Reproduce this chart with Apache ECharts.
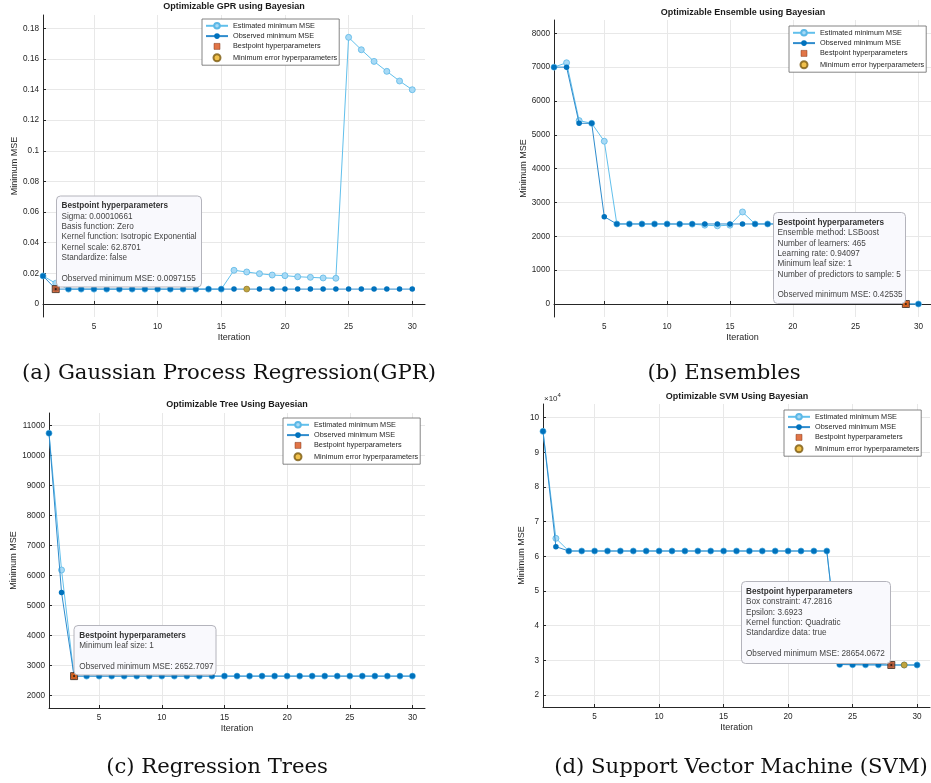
<!DOCTYPE html>
<html>
<head>
<meta charset="utf-8">
<script src="https://cdn.jsdelivr.net/npm/echarts@6/dist/echarts.min.js"></script>
<style>
html, body { margin: 0; padding: 0; background: #fff; }
#chart { width: 931px; height: 783px; }
</style>
</head>
<body>
<div id="chart"></div>
<script>
// iterations of the bayesian search
var iterations = [1, 2, 3, 4, 5, 6, 7, 8, 9, 10, 11, 12, 13, 14, 15, 16, 17, 18, 19, 20, 21, 22, 23, 24, 25, 26, 27, 28, 29, 30];
var xTicks = [5, 10, 15, 20, 25, 30];

// (a) GPR
var gprEstimated = [0.0183, 0.0135, 0.0097, 0.0097, 0.0097, 0.0097, 0.0097, 0.0097, 0.0097, 0.0097, 0.0097, 0.0097, 0.0097, 0.0097, 0.0097,
	0.0220, 0.0209, 0.0198, 0.0189, 0.0185, 0.0178, 0.0174, 0.0170, 0.0168, 0.1741, 0.1660, 0.1584, 0.1519, 0.1456, 0.1399];
var gprObserved = [0.0183, 0.0097155, 0.0097155, 0.0097155, 0.0097155, 0.0097155, 0.0097155, 0.0097155, 0.0097155, 0.0097155,
	0.0097155, 0.0097155, 0.0097155, 0.0097155, 0.0097155, 0.0097155, 0.0097155, 0.0097155, 0.0097155, 0.0097155,
	0.0097155, 0.0097155, 0.0097155, 0.0097155, 0.0097155, 0.0097155, 0.0097155, 0.0097155, 0.0097155, 0.0097155];
var gprBest = [2, 0.0097155];
var gprMinErr = [17, 0.0097155];
var gprTicks = [0, 0.02, 0.04, 0.06, 0.08, 0.1, 0.12, 0.14, 0.16, 0.18];

// (b) Ensemble
var ensEstimated = [7000, 7130, 5420, 5340, 4810, 2365, 2365, 2365, 2365, 2365, 2360, 2360, 2330, 2310, 2330,
	2720, 2365, 2365, 2365, 2365, 2365, 2365, 2365, 2365, 2365, 2365, 2365, 2365, 0.42535, 0.42535];
var ensObserved = [7000, 7000, 5340, 5340, 2580, 2365, 2365, 2365, 2365, 2365, 2365, 2365, 2365, 2365, 2365,
	2365, 2365, 2365, 2365, 2365, 2365, 2365, 2365, 2365, 2365, 2365, 2365, 2365, 0.42535, 0.42535];
var ensBest = [29, 0.42535];
var ensMinErr = [29, 0.42535];
var ensTicks = [0, 1000, 2000, 3000, 4000, 5000, 6000, 7000, 8000];

// (c) Tree
var treeEstimated = [10750, 6190, 2652.7097, 2652.7097, 2652.7097, 2652.7097, 2652.7097, 2652.7097, 2652.7097, 2652.7097,
	2652.7097, 2652.7097, 2652.7097, 2652.7097, 2652.7097, 2652.7097, 2652.7097, 2652.7097, 2652.7097, 2652.7097,
	2652.7097, 2652.7097, 2652.7097, 2652.7097, 2652.7097, 2652.7097, 2652.7097, 2652.7097, 2652.7097, 2652.7097];
var treeObserved = [10750, 5440, 2652.7097, 2652.7097, 2652.7097, 2652.7097, 2652.7097, 2652.7097, 2652.7097, 2652.7097,
	2652.7097, 2652.7097, 2652.7097, 2652.7097, 2652.7097, 2652.7097, 2652.7097, 2652.7097, 2652.7097, 2652.7097,
	2652.7097, 2652.7097, 2652.7097, 2652.7097, 2652.7097, 2652.7097, 2652.7097, 2652.7097, 2652.7097, 2652.7097];
var treeBest = [3, 2652.7097];
var treeMinErr = [3, 2652.7097];
var treeTicks = [2000, 3000, 4000, 5000, 6000, 7000, 8000, 9000, 10000, 11000];

// (d) SVM
var svmEstimated = [96060, 65190, 61540, 61540, 61540, 61540, 61540, 61540, 61540, 61540, 61540, 61540, 61540, 61540, 61540,
	61540, 61540, 61540, 61540, 61540, 61540, 61540, 61540, 28800, 28750, 28700, 28700, 28654.0672, 28654.0672, 28654.0672];
var svmObserved = [96060, 62790, 61540, 61540, 61540, 61540, 61540, 61540, 61540, 61540, 61540, 61540, 61540, 61540, 61540,
	61540, 61540, 61540, 61540, 61540, 61540, 61540, 61540, 28800, 28750, 28700, 28700, 28654.0672, 28654.0672, 28654.0672];
var svmBest = [28, 28654.0672];
var svmMinErr = [29, 28654.0672];
var svmTicks = [20000, 30000, 40000, 50000, 60000, 70000, 80000, 90000, 100000];

var legendNames = ['Estimated minimum MSE', 'Observed minimum MSE', 'Bestpoint hyperparameters', 'Minimum error hyperparameters'];

var sans = 'Liberation Sans, Arial, sans-serif';
var serif = 'DejaVu Serif, serif';
var ink = '#262626';

// square legend icon: the two moveTo corners keep the box at itemWidth x itemHeight
var squareIcon = 'path://M0,0M22,7M8,0.5L14,0.5L14,6.5L8,6.5Z';

var panels = [
	{
		grid: { left: 43, top: 15, width: 382, height: 302 },
		yMin: -0.0085, yMax: 0.1887, yTicks: gprTicks, yGap: 23.5,
		yFmt: function(v) { return String(parseFloat(v.toFixed(3))); },
		est: gprEstimated, obs: gprObserved, best: gprBest, minErr: gprMinErr,
		legend: { left: 202, top: 19 },
		title: { text: 'Optimizable GPR using Bayesian', x: 234, y: 7 },
		caption: { text: '(a) Gaussian Process Regression(GPR)', x: 229, y: 373 },
		box: { x: 56.5, y: 196, w: 145, h: 91, tx: 61.5, ty: 206,
			lines: ['Sigma: 0.00010661', 'Basis function: Zero', 'Kernel function: Isotropic Exponential', 'Kernel scale: 62.8701', 'Standardize: false', '', 'Observed minimum MSE: 0.0097155'] }
	},
	{
		grid: { left: 554, top: 20, width: 377, height: 297 },
		yMin: -384, yMax: 8393, yTicks: ensTicks, yGap: 25.5,
		yFmt: function(v) { return String(v); },
		est: ensEstimated, obs: ensObserved, best: ensBest, minErr: ensMinErr,
		legend: { left: 789, top: 26 },
		title: { text: 'Optimizable Ensemble using Bayesian', x: 743, y: 13 },
		caption: { text: '(b) Ensembles', x: 724, y: 373 },
		box: { x: 773.5, y: 212.5, w: 132, h: 91, tx: 777.5, ty: 222.7,
			lines: ['Ensemble method: LSBoost', 'Number of learners: 465', 'Learning rate: 0.94097', 'Minimum leaf size: 1', 'Number of predictors to sample: 5', '', 'Observed minimum MSE: 0.42535'] }
	},
	{
		grid: { left: 49, top: 413, width: 376, height: 295 },
		yMin: 1590, yMax: 11423, yTicks: treeTicks, yGap: 30,
		yFmt: function(v) { return String(v); },
		est: treeEstimated, obs: treeObserved, best: treeBest, minErr: treeMinErr,
		legend: { left: 283, top: 418 },
		title: { text: 'Optimizable Tree Using Bayesian', x: 237, y: 405 },
		caption: { text: '(c) Regression Trees', x: 217, y: 767 },
		box: { x: 74, y: 625.5, w: 142, h: 49.5, tx: 79.3, ty: 635.7,
			lines: ['Minimum leaf size: 1', '', 'Observed minimum MSE: 2652.7097'] }
	},
	{
		grid: { left: 543, top: 404, width: 387, height: 303 },
		yMin: 16540, yMax: 103950, yTicks: svmTicks, yGap: 16,
		yFmt: function(v) { return String(v / 10000); },
		est: svmEstimated, obs: svmObserved, best: svmBest, minErr: svmMinErr,
		legend: { left: 784, top: 410 },
		title: { text: 'Optimizable SVM Using Bayesian', x: 737, y: 397 },
		caption: { text: '(d) Support Vector Machine (SVM)', x: 741, y: 767 },
		box: { x: 741.5, y: 581.5, w: 149, h: 82, tx: 746, ty: 591.7,
			lines: ['Box constraint: 47.2816', 'Epsilon: 3.6923', 'Kernel function: Quadratic', 'Standardize data: true', '', 'Observed minimum MSE: 28654.0672'] }
	}
];

function pairs(arr) {
	return iterations.map(function(it, i) { return [it, arr[i]]; });
}

var grids = [], xAxes = [], yAxes = [], series = [], legends = [], graphics = [];

panels.forEach(function(p, i) {
	grids.push(p.grid);
	xAxes.push({
		type: 'value', gridIndex: i, min: 1, max: 31,
		name: 'Iteration', nameLocation: 'middle', nameGap: 16,
		nameTextStyle: { fontSize: 9, color: ink, fontFamily: sans },
		axisLine: { lineStyle: { color: ink, width: 1 } },
		axisTick: { inside: true, length: 3, customValues: xTicks, lineStyle: { color: ink } },
		axisLabel: { customValues: xTicks, margin: 6, fontSize: 8.2, color: ink, fontFamily: sans },
		splitLine: { show: true, lineStyle: { color: '#e8e8e8' } }
	});
	yAxes.push({
		type: 'value', gridIndex: i, min: p.yMin, max: p.yMax,
		name: 'Minimum MSE', nameLocation: 'middle', nameGap: p.yGap,
		nameTextStyle: { fontSize: 9, color: ink, fontFamily: sans },
		axisLine: { show: true, lineStyle: { color: ink, width: 1 } },
		axisTick: { show: true, inside: true, length: 3, customValues: p.yTicks, lineStyle: { color: ink } },
		axisLabel: { customValues: p.yTicks, margin: 4, fontSize: 8.2, color: ink, fontFamily: sans, formatter: p.yFmt },
		splitLine: { show: true, lineStyle: { color: '#e8e8e8' } }
	});
	series.push({
		name: legendNames[0], type: 'line', xAxisIndex: i, yAxisIndex: i, z: 2,
		data: pairs(p.est), symbol: 'circle', symbolSize: 6,
		lineStyle: { color: '#62c0ec', width: 1 },
		itemStyle: { color: '#a8daf6', borderColor: '#5cb8e6', borderWidth: 0.8 }
	});
	series.push({
		name: legendNames[1], type: 'line', xAxisIndex: i, yAxisIndex: i, z: 3,
		data: pairs(p.obs), symbol: 'circle', symbolSize: 5.5,
		lineStyle: { color: '#2f8ccd', width: 1 },
		itemStyle: { color: '#0072BD' }
	});
	series.push({
		name: legendNames[3], type: 'scatter', xAxisIndex: i, yAxisIndex: i, z: 4,
		data: [p.minErr], symbol: 'circle', symbolSize: 6,
		itemStyle: { color: '#EDB120', borderColor: '#7a5a10', borderWidth: 0.6 }
	});
	series.push({
		name: legendNames[2], type: 'scatter', xAxisIndex: i, yAxisIndex: i, z: 5,
		data: [p.best], symbol: 'rect', symbolSize: 7,
		itemStyle: { color: '#D95319', borderColor: '#3a2a20', borderWidth: 1 }
	});
	series.push({
		name: 'best dot', type: 'scatter', xAxisIndex: i, yAxisIndex: i, z: 6,
		data: [p.best], symbol: 'circle', symbolSize: 2.2,
		itemStyle: { color: '#111' }, silent: true
	});
	legends.push({
		data: [
			{ name: legendNames[0] },
			{ name: legendNames[1] },
			{ name: legendNames[2], icon: squareIcon, itemStyle: { borderColor: '#7a2e10', borderWidth: 0.6 } },
			{ name: legendNames[3] }
		],
		orient: 'vertical', left: p.legend.left, top: p.legend.top,
		itemWidth: 22, itemHeight: 7, itemGap: 3, padding: [3, 2, 3, 3],
		backgroundColor: '#fff', borderColor: '#666', borderWidth: 0.8, z: 20,
		selectedMode: false,
		textStyle: { fontSize: 7.3, color: ink, fontFamily: sans }
	});
	graphics.push({
		type: 'text', x: p.title.x, y: p.title.y, z: 20,
		style: { text: p.title.text, fill: '#1a1a1a', fontSize: 9, fontWeight: 'bold', fontFamily: sans,
			align: 'center', verticalAlign: 'middle', textAlign: 'center', textVerticalAlign: 'middle' }
	});
	graphics.push({
		type: 'text', x: p.caption.x, y: p.caption.y, z: 20,
		style: { text: p.caption.text, fill: '#111', fontSize: 21.2, fontFamily: serif,
			align: 'center', verticalAlign: 'middle', textAlign: 'center', textVerticalAlign: 'middle' }
	});
	// annotation box
	graphics.push({
		type: 'rect', z: 30,
		shape: { x: p.box.x, y: p.box.y, width: p.box.w, height: p.box.h, r: 4 },
		style: { fill: '#f9f9fd', stroke: '#b4b4bc', lineWidth: 1 }
	});
	graphics.push({
		type: 'text', x: p.box.tx, y: p.box.ty, z: 31,
		style: { text: 'Bestpoint hyperparameters', fill: '#333', fontSize: 8.2, fontWeight: 'bold', fontFamily: sans,
			align: 'left', verticalAlign: 'middle', textAlign: 'left', textVerticalAlign: 'middle' }
	});
	graphics.push({
		type: 'text', x: p.box.tx, y: p.box.ty + 5.2, z: 31,
		style: { text: p.box.lines.join('\n'), fill: '#444', fontSize: 8.2, lineHeight: 10.35, fontFamily: sans,
			align: 'left', verticalAlign: 'top', textAlign: 'left', textVerticalAlign: 'top' }
	});
});

// exponent label of the SVM axis
graphics.push({
	type: 'text', x: 544, y: 399, z: 20,
	style: { text: '\u00d710', fill: ink, fontSize: 8, fontFamily: sans, align: 'left', verticalAlign: 'middle', textAlign: 'left', textVerticalAlign: 'middle' }
});
graphics.push({
	type: 'text', x: 557.5, y: 395, z: 20,
	style: { text: '4', fill: ink, fontSize: 6, fontFamily: sans, align: 'left', verticalAlign: 'middle', textAlign: 'left', textVerticalAlign: 'middle' }
});

var myChart = echarts.init(document.getElementById('chart'));
myChart.setOption({
	animation: false,
	backgroundColor: '#fff',
	grid: grids,
	xAxis: xAxes,
	yAxis: yAxes,
	legend: legends,
	series: series,
	graphic: { elements: graphics }
});
</script>
</body>
</html>
